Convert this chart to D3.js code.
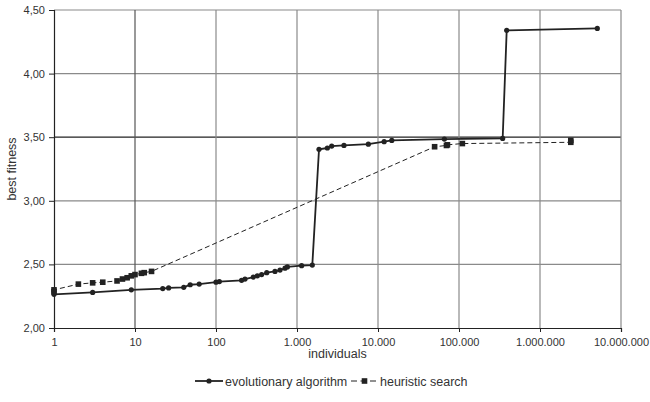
<!DOCTYPE html>
<html><head><meta charset="utf-8">
<script src="https://cdn.jsdelivr.net/npm/d3@7"></script>
<style>body{margin:0;background:#fff}svg{display:block;font-family:"Liberation Sans",Arial,sans-serif}</style>
</head><body><svg id="c" width="650" height="402"></svg>
<script>
const evoX = [1, 3, 9, 22, 26, 40, 48, 62, 100, 110, 207, 228, 289, 324, 366, 423, 535, 617, 711, 760, 1140, 1545, 1870, 2370, 2680, 3800, 7600, 11900, 14800, 66000, 346000, 388000, 5100000];
const evoY = [2.265, 2.28, 2.30, 2.31, 2.315, 2.32, 2.34, 2.345, 2.36, 2.365, 2.375, 2.385, 2.40, 2.41, 2.42, 2.435, 2.445, 2.455, 2.47, 2.48, 2.49, 2.495, 3.405, 3.415, 3.43, 3.435, 3.445, 3.465, 3.475, 3.485, 3.49, 4.34, 4.355];
const heurX = [1, 1, 2, 3, 4, 6, 7, 8, 9, 10, 12, 13, 16, 50000, 70000, 72000, 110000, 2400000, 2400000];
const heurY = [2.285, 2.30, 2.345, 2.355, 2.36, 2.37, 2.385, 2.395, 2.41, 2.42, 2.43, 2.435, 2.445, 3.425, 3.435, 3.44, 3.45, 3.46, 3.475];
const xTicks = [1, 10, 100, 1000, 10000, 100000, 1000000, 10000000];
const yTicks = [2.0, 2.5, 3.0, 3.5, 4.0, 4.5];
const seriesNames = ["evolutionary algorithm", "heuristic search"];
const xTitle = "individuals", yTitle = "best fitness";

const svg = d3.select("#c");
const m = {l:54, r:29, t:10, b:74};
const W = 650, H = 402;
const FS = "12.5px", TS = "11px";
const x = d3.scaleLog().domain([1, 1e7]).range([m.l, W - m.r]);
const y = d3.scaleLinear().domain([2, 4.5]).range([H - m.b, m.t]);
const loc = d3.formatLocale({decimal:",", thousands:".", grouping:[3], currency:["",""]});
const fx = loc.format(",d"), fy = loc.format(".2f");
const txt = "#333";

// grid
svg.append("g").selectAll("line").data(yTicks.slice(1)).join("line")
  .attr("x1", m.l).attr("x2", W - m.r)
  .attr("y1", d => y(d)).attr("y2", d => y(d))
  .attr("stroke", d => d === 3.5 ? "#222" : "#8a8a8a").attr("stroke-width", 1.2);
svg.append("g").selectAll("line").data(xTicks.slice(1)).join("line")
  .attr("y1", m.t).attr("y2", H - m.b)
  .attr("x1", d => x(d)).attr("x2", d => x(d))
  .attr("stroke", d => d === 10 ? "#555" : "#8a8a8a").attr("stroke-width", 1.2);

// axes
const xa = svg.append("g").attr("transform", `translate(0,${H - m.b})`)
  .call(d3.axisBottom(x).tickValues(xTicks).tickFormat(fx).tickSize(4).tickPadding(6));
const ya = svg.append("g").attr("transform", `translate(${m.l},0)`)
  .call(d3.axisLeft(y).tickValues(yTicks).tickFormat(fy).tickSize(5).tickPadding(4));
[xa, ya].forEach(a => {
  a.select(".domain").attr("stroke", "#222").attr("stroke-width", 1.2);
  a.selectAll(".tick line").attr("stroke", "#222");
  a.selectAll("text").attr("fill", txt).style("font-size", TS);
});

// lines
const evo = evoX.map((v, i) => [v, evoY[i]]);
const heur = heurX.map((v, i) => [v, heurY[i]]);
const line = d3.line().x(d => x(d[0])).y(d => y(d[1]));
svg.append("path").datum(heur).attr("d", line).attr("fill", "none")
  .attr("stroke", "#222").attr("stroke-width", 1).attr("stroke-dasharray", "5,3");
svg.append("path").datum(evo).attr("d", line).attr("fill", "none")
  .attr("stroke", "#222").attr("stroke-width", 1.8);
svg.append("g").selectAll("rect").data(heur).join("rect")
  .attr("x", d => x(d[0]) - 2.8).attr("y", d => y(d[1]) - 2.8)
  .attr("width", 5.6).attr("height", 5.6).attr("fill", "#222");
svg.append("g").selectAll("circle").data(evo).join("circle")
  .attr("cx", d => x(d[0])).attr("cy", d => y(d[1])).attr("r", 2.6).attr("fill", "#222");

// titles
svg.append("text").attr("x", (m.l + W - m.r) / 2).attr("y", 358).attr("text-anchor", "middle")
  .attr("fill", txt).style("font-size", FS).text(xTitle);
svg.append("text").attr("transform", `translate(16,${(m.t + H - m.b) / 2}) rotate(-90)`)
  .attr("text-anchor", "middle").attr("fill", txt).style("font-size", FS).text(yTitle);

// legend
const ly = 381;
const lg = svg.append("g");
lg.append("line").attr("x1", 195).attr("x2", 223).attr("y1", ly).attr("y2", ly)
  .attr("stroke", "#222").attr("stroke-width", 1.8);
lg.append("circle").attr("cx", 209).attr("cy", ly).attr("r", 2.6).attr("fill", "#222");
lg.append("text").attr("x", 225).attr("y", ly + 4.5).attr("fill", txt).style("font-size", FS).text(seriesNames[0]);
lg.append("line").attr("x1", 351).attr("x2", 378).attr("y1", ly).attr("y2", ly)
  .attr("stroke", "#222").attr("stroke-width", 1).attr("stroke-dasharray", "6,3.5");
lg.append("rect").attr("x", 361.7).attr("y", ly - 2.8).attr("width", 5.6).attr("height", 5.6).attr("fill", "#222");
lg.append("text").attr("x", 380).attr("y", ly + 4.5).attr("fill", txt).style("font-size", FS).text(seriesNames[1]);
</script></body></html>
